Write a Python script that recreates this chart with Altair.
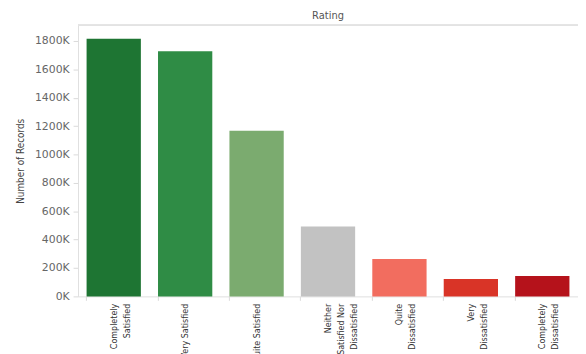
import altair as alt
import pandas as pd

ratings = [
    "Completely Satisfied",
    "Very Satisfied",
    "Quite Satisfied",
    "Neither Satisfied Nor Dissatisfied",
    "Quite Dissatisfied",
    "Very Dissatisfied",
    "Completely Dissatisfied",
]
label_lines = [
    "Completely|Satisfied",
    "Very Satisfied",
    "Quite Satisfied",
    "Neither|Satisfied Nor|Dissatisfied",
    "Quite|Dissatisfied",
    "Very|Dissatisfied",
    "Completely|Dissatisfied",
]
records = [1815000, 1727000, 1167000, 493000, 264000, 123000, 144000]
colors = ["#1e7533", "#2f8c45", "#7bab6f", "#c2c2c2", "#f26d5f", "#d93427", "#b5121b"]
y_ticks = [0, 200000, 400000, 600000, 800000, 1000000, 1200000, 1400000, 1600000, 1800000]

df = pd.DataFrame({"Rating": label_lines, "Records": records, "Full": ratings})

W, H = 507, 275
NARROW = "Liberation Sans Narrow, DejaVu Sans Condensed, Roboto Condensed, Liberation Sans"

bars = alt.Chart(df).mark_bar().encode(
    x=alt.X(
        "Rating:N",
        sort=label_lines,
        scale=alt.Scale(paddingInner=0.24, paddingOuter=0.12),
        axis=alt.Axis(
            title=None,
            labelAngle=-90,
            labelAlign="right",
            labelBaseline="middle",
            labelExpr="split(datum.label, '|')",
            labelFont=NARROW,
            labelFontSize=9,
            labelLineHeight=13,
            labelColor="#333",
            labelPadding=3,
            bandPosition=0,
            ticks=True,
            tickColor="#d9d9d9",
            tickSize=4,
            domainColor="#e0e0e0",
            labelLimit=200,
        ),
    ),
    y=alt.Y(
        "Records:Q",
        scale=alt.Scale(domain=[0, 1911000], nice=False),
        axis=alt.Axis(
            title="Number of Records",
            values=y_ticks,
            labelExpr="datum.value / 1000 + 'K'",
            grid=False,
            labelFont="DejaVu Sans",
            labelFontSize=11,
            labelColor="#666",
            tickColor="#d9d9d9",
            tickSize=5,
            labelPadding=4,
            domainColor="#e0e0e0",
            titleFont=NARROW,
            titleFontSize=10,
            titleFontWeight="normal",
            titleColor="#444",
            titlePadding=9,
        ),
    ),
    color=alt.Color(
        "Rating:N",
        sort=label_lines,
        scale=alt.Scale(domain=label_lines, range=colors),
        legend=None,
    ),
)

top_rule = alt.Chart(df).mark_rule(color="#e3e3e3").encode(
    x=alt.value(0), x2=alt.value(W), y=alt.value(0)
)

chart = (
    alt.layer(bars, top_rule)
    .properties(
        width=W,
        height=H,
        title=alt.TitleParams(
            "Rating",
            anchor="middle",
            fontSize=10,
            fontWeight="normal",
            font="DejaVu Sans",
            color="#555",
            offset=4,
        ),
        autosize=alt.AutoSizeParams(type="none"),
        padding={"left": 71, "top": 15, "right": 0, "bottom": 56},
    )
    .configure_view(stroke=None)
)

chart.save("out.html", embed_options={"renderer": "svg", "actions": False})
